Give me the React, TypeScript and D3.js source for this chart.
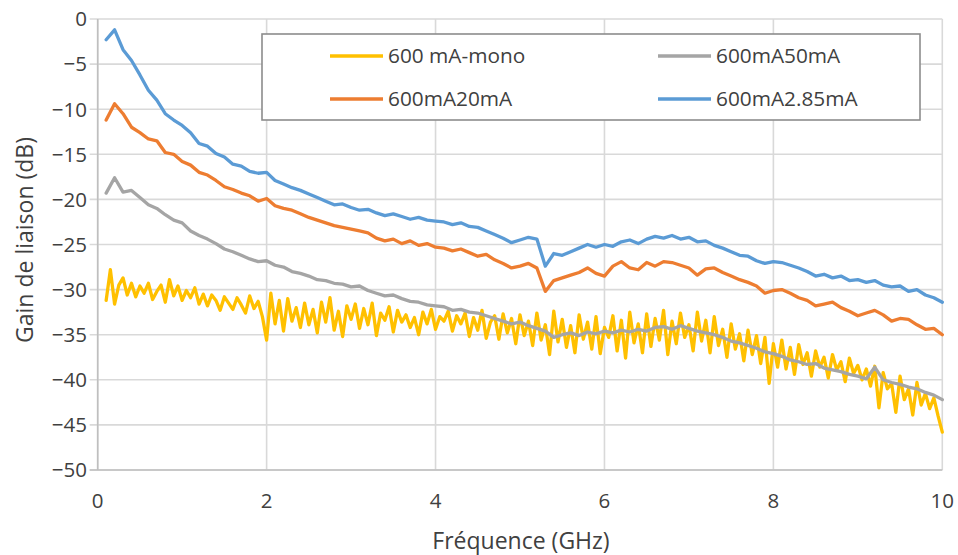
import React from "react";
import * as d3 from "d3";

// ---------- data ----------
const FREQ_START = 0.1; // GHz
const STEP_COARSE = 0.1; // GHz
const STEP_FINE = 0.05; // GHz

const seriesNames = ["600 mA-mono", "600mA50mA", "600mA20mA", "600mA2.85mA"];
const seriesColors = ["#FFC000", "#A5A5A5", "#ED7D31", "#5B9BD5"];

const xTicks = [0, 2, 4, 6, 8, 10];
const yTicks = [0, -5, -10, -15, -20, -25, -30, -35, -40, -45, -50];

// 600 mA-mono (0.1 .. 10 GHz, step 0.05)
const monoValues = [
  -31.2, -27.8, -31.6, -29.5, -28.7, -30.6, -29.3, -30.8, -29.6, -30.4, -29.3, -31.1, -30.2, -29.5, -31.4, -28.9, -30.7, -29.6, -31.2, -30.1,
  -30.9, -29.8, -31.6, -30.5, -31.8, -30.6, -31.2, -32.3, -30.8, -31.5, -32.2, -30.9, -31.7, -32.6, -30.7, -32.1, -31.3, -33.0, -35.6, -30.4,
  -33.8, -31.2, -34.6, -31.0, -33.5, -32.0, -34.2, -31.5, -33.9, -32.2, -34.8, -31.4, -33.6, -30.9, -34.5, -32.4, -35.2, -31.8, -33.3, -31.6,
  -34.3, -32.1, -33.9, -31.5, -35.1, -32.6, -33.4, -31.9, -34.7, -32.3, -33.6, -32.8, -34.2, -33.1, -35.0, -32.5, -33.8, -32.2, -34.4, -33.0,
  -33.5, -32.4, -34.6, -32.9, -33.8, -32.6, -35.2, -33.1, -34.5, -32.3, -35.4, -33.6, -32.9, -35.5, -32.7, -34.8, -33.2, -36.0, -32.8, -35.1,
  -33.5, -36.2, -32.6, -35.6, -33.9, -37.2, -32.4, -35.8, -33.3, -36.4, -34.0, -37.0, -32.8, -35.5, -33.6, -36.6, -33.0, -37.1, -34.2, -35.3,
  -32.9, -36.8, -33.4, -37.6, -32.5, -35.9, -33.8, -37.0, -32.7, -36.3, -33.2, -35.6, -32.3, -37.2, -33.5, -36.0, -32.6, -35.3, -33.9, -36.8,
  -32.5, -35.7, -33.4, -37.0, -33.0, -36.2, -34.4, -37.5, -33.8, -36.6, -34.9, -37.9, -34.5, -37.2, -35.1, -38.2, -35.3, -40.4, -36.0, -38.6,
  -35.6, -38.8, -36.4, -39.4, -36.1, -38.3, -37.0, -39.6, -36.8, -38.6, -37.5, -39.8, -37.2, -38.9, -38.0, -40.2, -37.6, -39.3, -38.4, -40.0,
  -38.8, -40.7, -38.5, -43.1, -39.2, -41.0, -40.4, -43.6, -39.6, -42.2, -41.0, -43.9, -40.3, -42.8, -41.5, -43.2, -42.0, -44.0, -45.8,
];

// 600mA50mA (0.1 .. 10 GHz, step 0.1)
const ma50Values = [
  -19.3, -17.6, -19.2, -19.0, -19.8, -20.6, -21.0, -21.7, -22.3, -22.6,
  -23.5, -24.0, -24.4, -24.9, -25.5, -25.8, -26.2, -26.6, -26.9, -26.8,
  -27.3, -27.5, -28.0, -28.2, -28.5, -28.9, -29.0, -29.3, -29.4, -29.7,
  -29.6, -30.1, -30.4, -30.7, -30.6, -31.0, -31.3, -31.4, -31.7, -31.8,
  -31.9, -32.3, -32.2, -32.5, -32.6, -32.9, -33.2, -33.5, -33.8, -33.6,
  -34.0, -34.3, -34.6, -35.3, -35.0, -34.8, -35.1, -34.7, -34.9, -34.6,
  -34.8, -34.5, -34.7, -34.4, -34.6, -34.2, -34.1, -34.4, -34.0, -34.3,
  -34.6, -34.8, -35.0, -35.3, -35.7, -35.9, -36.2, -36.5, -36.9, -37.1,
  -37.4, -37.8, -38.0, -38.3, -38.2, -38.7, -38.9, -39.1, -39.4, -39.6,
  -39.9, -38.6, -40.0, -40.3, -40.5, -40.8, -41.0, -41.4, -41.7, -42.2,
];

// 600mA20mA (0.1 .. 10 GHz, step 0.1)
const ma20Values = [
  -11.2, -9.4, -10.5, -12.0, -12.6, -13.3, -13.5, -14.8, -15.0, -15.8,
  -16.2, -17.0, -17.3, -17.9, -18.6, -18.9, -19.3, -19.6, -20.2, -19.9,
  -20.7, -21.0, -21.2, -21.6, -22.0, -22.3, -22.6, -22.9, -23.1, -23.3,
  -23.5, -23.7, -24.3, -24.6, -24.4, -24.9, -24.6, -25.1, -24.9, -25.3,
  -25.4, -25.7, -25.5, -25.9, -26.3, -26.1, -26.7, -27.1, -27.6, -27.4,
  -27.1, -27.6, -30.2, -29.0, -28.7, -28.4, -28.1, -27.6, -28.2, -28.5,
  -27.4, -26.9, -27.6, -27.8, -27.0, -27.4, -26.9, -27.0, -27.3, -27.6,
  -28.4, -27.7, -27.6, -28.1, -28.5, -28.9, -29.2, -29.6, -30.4, -30.1,
  -30.0, -30.4, -30.9, -31.2, -31.8, -31.6, -31.4, -32.0, -32.4, -32.9,
  -32.6, -32.3, -32.8, -33.5, -33.2, -33.3, -33.9, -34.4, -34.3, -35.0,
];

// 600mA2.85mA (0.1 .. 10 GHz, step 0.1)
const ma285Values = [
  -2.3, -1.2, -3.4, -4.6, -6.2, -7.9, -9.0, -10.5, -11.2, -11.8,
  -12.6, -13.8, -14.1, -14.9, -15.3, -16.1, -16.3, -16.9, -17.1, -17.0,
  -17.9, -18.3, -18.7, -19.0, -19.4, -19.8, -20.2, -20.6, -20.5, -20.9,
  -21.2, -21.1, -21.5, -21.8, -21.6, -21.9, -22.2, -22.0, -22.3, -22.4,
  -22.5, -22.8, -22.6, -23.0, -23.1, -23.5, -23.9, -24.3, -24.8, -24.5,
  -24.2, -24.4, -27.4, -26.0, -26.2, -25.8, -25.4, -25.0, -25.3, -25.0,
  -25.2, -24.7, -24.5, -24.9, -24.4, -24.1, -24.3, -24.0, -24.4, -24.2,
  -24.7, -24.6, -25.1, -25.4, -25.8, -26.2, -26.3, -26.8, -27.1, -26.9,
  -27.0, -27.3, -27.6, -28.0, -28.5, -28.3, -28.7, -28.5, -29.0, -28.9,
  -29.2, -29.0, -29.5, -29.7, -29.6, -30.2, -30.0, -30.6, -30.9, -31.4,
];

const seriesValues = [monoValues, ma50Values, ma20Values, ma285Values];
const seriesSteps = [STEP_FINE, STEP_COARSE, STEP_COARSE, STEP_COARSE];

// ---------- layout ----------
const W = 958;
const H = 555;
const PLOT_LEFT = 97.7;
const PLOT_RIGHT = 942.3;
const PLOT_TOP = 19;
const PLOT_BOTTOM = 470;
const FONT = "'Open Sans', 'Segoe UI', sans-serif";
const TEXT_COLOR = "#404040";
const GRID_COLOR = "#d9d9d9";

const fmtTick = (t: number) => (t < 0 ? "\u2212" + Math.abs(t) : String(t));

export default function App() {
  const x = d3.scaleLinear().domain([0, 10]).range([PLOT_LEFT, PLOT_RIGHT]);
  const y = d3.scaleLinear().domain([-50, 0]).range([PLOT_BOTTOM, PLOT_TOP]);

  const line = d3
    .line<[number, number]>()
    .x((d) => x(d[0]))
    .y((d) => y(d[1]));

  const paths = seriesValues.map((vals, si) =>
    line(vals.map((v, i) => [FREQ_START + i * seriesSteps[si], v] as [number, number]))
  );

  const legendX0 = 262;
  const legendY0 = 34;
  const legendW = 658;
  const legendH = 86;
  const legendItems = [
    { i: 0, lx: 330, ly: 56 },
    { i: 1, lx: 658, ly: 56 },
    { i: 2, lx: 330, ly: 99 },
    { i: 3, lx: 658, ly: 99 },
  ];

  return (
    <svg
      width={W}
      height={H}
      style={{ position: "absolute", left: 0, top: 0, background: "#fff" }}
      fontFamily={FONT}
    >
      <rect x={0} y={0} width={W} height={H} fill="#fff" />
      {/* horizontal grid */}
      {yTicks.map((t) => (
        <line
          key={"h" + t}
          x1={PLOT_LEFT - 8}
          x2={PLOT_RIGHT}
          y1={y(t)}
          y2={y(t)}
          stroke={GRID_COLOR}
          strokeWidth={1.6}
        />
      ))}
      {/* vertical grid */}
      {xTicks.map((t) => (
        <line
          key={"v" + t}
          x1={x(t)}
          x2={x(t)}
          y1={PLOT_TOP}
          y2={PLOT_BOTTOM}
          stroke={GRID_COLOR}
          strokeWidth={1.6}
        />
      ))}
      {/* axes */}
      <line x1={x(0)} x2={x(0)} y1={PLOT_TOP} y2={PLOT_BOTTOM} stroke="#bfbfbf" strokeWidth={1.6} />
      <line x1={PLOT_LEFT - 8} x2={PLOT_RIGHT} y1={PLOT_BOTTOM} y2={PLOT_BOTTOM} stroke="#bfbfbf" strokeWidth={1.6} />

      {/* y tick labels */}
      {yTicks.map((t) => (
        <text
          key={"yl" + t}
          x={87}
          y={y(t)}
          dy="0.36em"
          textAnchor="end"
          fontSize={20.5}
          fill={TEXT_COLOR}
        >
          {fmtTick(t)}
        </text>
      ))}
      {/* x tick labels */}
      {xTicks.map((t) => (
        <text
          key={"xl" + t}
          x={x(t)}
          y={508}
          textAnchor="middle"
          fontSize={20.5}
          fill={TEXT_COLOR}
        >
          {fmtTick(t)}
        </text>
      ))}

      {/* series */}
      {paths.map((p, i) => (
        <path
          key={"s" + i}
          d={p || ""}
          fill="none"
          stroke={seriesColors[i]}
          strokeWidth={3.3}
          strokeLinejoin="round"
          strokeLinecap="round"
        />
      ))}

      {/* axis titles */}
      <text x={521} y={549} textAnchor="middle" fontSize={23} fill={TEXT_COLOR}>
        Fréquence (GHz)
      </text>
      <text
        transform={`translate(33,240) rotate(-90)`}
        textAnchor="middle"
        fontSize={23}
        fill={TEXT_COLOR}
      >
        Gain de liaison (dB)
      </text>

      {/* legend */}
      <rect
        x={legendX0}
        y={legendY0}
        width={legendW}
        height={legendH}
        fill="#fff"
        stroke="#8c8c8c"
        strokeWidth={1.6}
      />
      {legendItems.map((it) => (
        <g key={"lg" + it.i}>
          <line
            x1={it.lx}
            x2={it.lx + 53}
            y1={it.ly}
            y2={it.ly}
            stroke={seriesColors[it.i]}
            strokeWidth={3.3}
          />
          <text x={it.lx + 58} y={it.ly} dy="0.36em" fontSize={20.8} fill={TEXT_COLOR}>
            {seriesNames[it.i]}
          </text>
        </g>
      ))}
    </svg>
  );
}
